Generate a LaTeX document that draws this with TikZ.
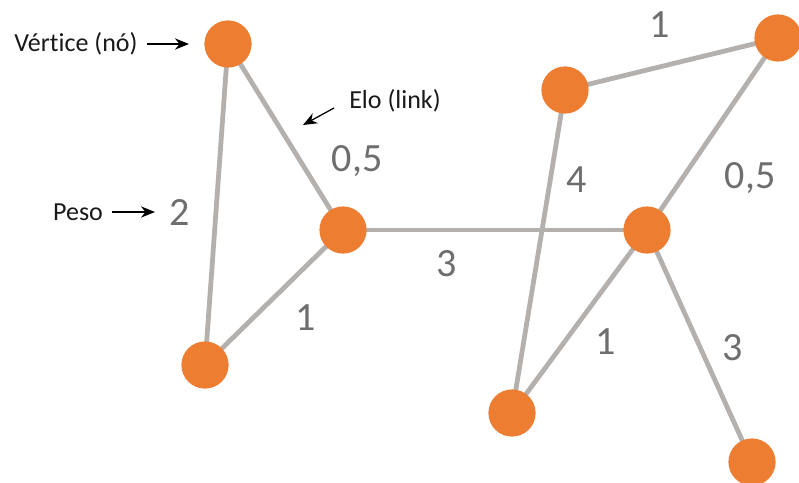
\documentclass[tikz,border=0pt]{standalone}
\usepackage{fontspec}
\setmainfont{Carlito}[Ligatures=NoCommon]
\usetikzlibrary{arrows.meta}
\definecolor{vorange}{HTML}{ED7D31}
\definecolor{egray}{HTML}{B3B0AE}
\definecolor{wgray}{HTML}{6E6E6E}
\begin{document}
\begin{tikzpicture}[x=0.025cm,y=-0.025cm]
        \tikzset{vertex/.style={circle,fill=vorange,minimum size=1.18cm,inner sep=0pt},
                 link/.style={draw=egray,line width=3.4pt},
                 weight/.style={text=wgray,font=\fontsize{28.5}{28.5}\selectfont},
                 note/.style={text=black!90,font=\fontsize{18.5}{18.5}\selectfont},
                 pointer/.style={-{Stealth[length=10pt,width=8pt]},line width=0.9pt}}
            \useasboundingbox (0,0) rectangle (799,482);
            % vertices
            \foreach \n/\x/\y in {a/228/44, b/343/230, c/205/365, d/565/90,
                                  e/778/38, f/647/230, g/512/413, h/752/462}{
                \coordinate (\n) at (\x,\y);
            }
            % links
            \draw[link] (a) -- (b);
            \draw[link] (a) -- (c);
            \draw[link] (b) -- (c);
            \draw[link] (b) -- (f);
            \draw[link] (d) -- (e);
            \draw[link] (d) -- (g);
            \draw[link] (e) -- (f);
            \draw[link] (f) -- (g);
            \draw[link] (f) -- (h);
            \foreach \n in {a,b,c,d,e,f,g,h}{
                \node[vertex] (v\n) at (\n) {};
            }
            % weights
            \node[weight] (wab) at (357,161) {0,5};
            \node[weight] (wac) at (180,212) {2};
            \node[weight] (wbc) at (306,318) {1};
            \node[weight] (wbf) at (447,264) {3};
            \node[weight] (wde) at (660,25) {1};
            \node[weight] (wdg) at (577,180) {4};
            \node[weight] (wef) at (750,178) {0,5};
            \node[weight] (wfg) at (606,342) {1};
            \node[weight] (wfh) at (733,348) {3};
            % notes
            \node[note] (vertice) at (76,44) {Vértice (nó)};
            \node[note] (elo) at (395,101) {Elo (link)};
            \node[note] (peso) at (78,212) {Peso};
            \coordinate (vfrom) at (147,44);
            \coordinate (vtip) at (189,44);
            \coordinate (efrom) at (334,108);
            \coordinate (etip) at (303,125);
            \coordinate (pfrom) at (112,212);
            \coordinate (ptip) at (155,212);
            \draw[pointer] (vfrom) -- (vtip);
            \draw[pointer] (efrom) -- (etip);
            \draw[pointer] (pfrom) -- (ptip);
\end{tikzpicture}
\end{document}
